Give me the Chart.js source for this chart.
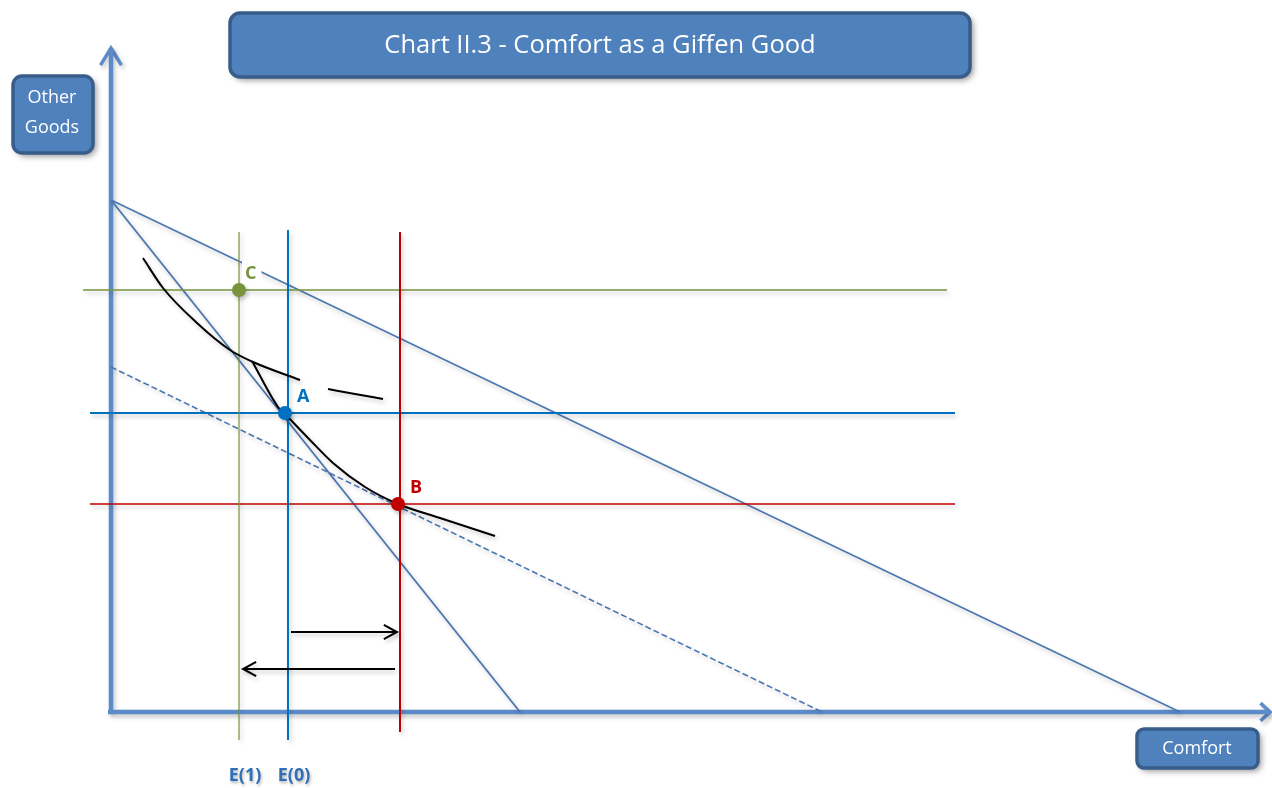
<!DOCTYPE html>
<html><head><meta charset="utf-8">
<script src="https://cdn.jsdelivr.net/npm/chart.js@4.4.1/dist/chart.umd.min.js"></script>
<style>html,body{margin:0;padding:0;background:#fff}#wrap{width:1272px;height:788px;position:relative}</style>
</head><body><div id="wrap"><canvas id="c"></canvas></div>
<script>
// ---- values (x: Comfort, y: Other Goods) ----
const titleText = 'Chart II.3 - Comfort as a Giffen Good';
const yAxisTitle = ['Other', 'Goods'];
const xAxisTitle = 'Comfort';
const axisXEnd = 115.9;
const axisYEnd = 66.4;
const budgetIntercept = 51.2;
const budgetOuterEnd = 106.9;
const budgetSteepEnd = 40.9;
const compensatedStart = 34.5;
const compensatedEnd = 71.1;
const pointLabels = ['A', 'B', 'C'];
const pointX = [17.4, 28.7, 12.8];
const pointY = [29.9, 20.8, 42.2];
const levelY = [29.9, 20.8, 42.2];
const levelXFrom = [-2.1, -2.1, -2.8];
const levelXTo = [84.4, 84.4, 83.6];
const guideX = [17.7, 28.9, 12.8];
const guideYFrom = [-2.8, -2.0, -2.8];
const guideYTo = [48.2, 48.0, 48.0];
const tickLabels = ['E(0)', '', 'E(1)'];
const curve1X = [3.2, 5.2, 8.6, 11.9, 14.2, 18.9, null, 21.7, 24.4, 27.2];
const curve1Y = [45.4, 42.4, 38.9, 36.2, 35.0, 33.2, null, 32.3, 31.8, 31.3];
const curve2X = [14.1, 16.7, 17.4, 19.9, 22.2, 25.4, 28.7, 32.9, 38.4];
const curve2Y = [35.1, 30.5, 29.8, 27.2, 24.9, 22.5, 20.8, 19.4, 17.6];
const shiftRight = [18.0, 28.6, 8.0];
const shiftLeft = [28.4, 13.2, 4.3];

// ---- styles ----
const colA = '#0070c0', colB = '#c00000', colC = '#77933c';
const pointColors = [colA, colB, colC];
const axisColor = '#5b8bc9';
const budgetColor = '#4a76b0';

function seg(x1, y1, x2, y2) { return [{x: x1, y: y1}, {x: x2, y: y2}]; }
function head(tx, ty, dx, dy, len, spread) {
  const a = Math.atan2(dy, dx);
  const p1 = {x: tx - len * Math.cos(a - spread), y: ty - len * Math.sin(a - spread)};
  const p2 = {x: tx - len * Math.cos(a + spread), y: ty - len * Math.sin(a + spread)};
  return [p1, {x: tx, y: ty}, p2];
}
function line(data, color, width, extra) {
  return Object.assign({data, showLine: true, borderColor: color, backgroundColor: color,
    borderWidth: width, pointRadius: 0, pointHoverRadius: 0, fill: false, tension: 0, clip: false, shadow: true}, extra || {});
}
function zip(xs, ys) { return xs.map((x, i) => x === null ? {x: NaN, y: NaN} : {x, y: ys[i]}); }

const datasets = [];
pointLabels.forEach((l, i) => {
  datasets.push({data: [{x: pointX[i], y: pointY[i]}], showLine: false, pointRadius: 7, pointHoverRadius: 7,
    backgroundColor: pointColors[i], borderColor: pointColors[i], borderWidth: 0, clip: false, shadow: true});
});
datasets.push(line(seg(shiftRight[0], shiftRight[2], shiftRight[1], shiftRight[2]), '#000', 2));
datasets.push(line(head(shiftRight[1], shiftRight[2], 1, 0, 1.5, 0.5), '#000', 2));
datasets.push(line(seg(shiftLeft[0], shiftLeft[2], shiftLeft[1], shiftLeft[2]), '#000', 2));
datasets.push(line(head(shiftLeft[1], shiftLeft[2], -1, 0, 1.5, 0.5), '#000', 2));
datasets.push(line(zip(curve1X, curve1Y), '#000', 2, {cubicInterpolationMode: 'monotone', spanGaps: false}));
datasets.push(line(zip(curve2X, curve2Y), '#000', 2, {cubicInterpolationMode: 'monotone'}));
guideX.forEach((gx, i) => datasets.push(line(seg(gx, guideYFrom[i], gx, guideYTo[i]), pointColors[i], i === 2 ? 1.2 : 2)));
levelY.forEach((ly, i) => datasets.push(line(seg(levelXFrom[i], ly, levelXTo[i], ly), pointColors[i], i === 0 ? 2 : 1.5)));
datasets.push(line(seg(0, compensatedStart, compensatedEnd, 0), budgetColor, 1.6, {borderDash: [6, 3]}));
datasets.push(line(seg(0, budgetIntercept, budgetSteepEnd, 0), budgetColor, 1.8));
datasets.push(line(seg(0, budgetIntercept, budgetOuterEnd, 0), budgetColor, 1.6));
datasets.push(line(seg(-0.3, 0, axisXEnd, 0), axisColor, 4.5));
datasets.push(line(head(axisXEnd, 0, 1, 0, 1.3, 0.75), axisColor, 3.5));
datasets.push(line(seg(0, 0, 0, axisYEnd), axisColor, 4.5));
datasets.push(line(head(0, axisYEnd, 0, 1, 2.0, 0.55), axisColor, 3.5));

function roundBox(ctx, x, y, w, h, r, fill, stroke, lw) {
  ctx.save();
  ctx.shadowColor = 'rgba(0,0,0,0.45)'; ctx.shadowBlur = 6; ctx.shadowOffsetX = 3; ctx.shadowOffsetY = 3;
  ctx.beginPath(); ctx.roundRect(x, y, w, h, r);
  ctx.fillStyle = fill; ctx.fill();
  ctx.shadowColor = 'transparent';
  ctx.lineWidth = lw; ctx.strokeStyle = stroke; ctx.stroke();
  ctx.restore();
}

const labelOffsetX = [12, 12, 6];
const decor = {
  id: 'decor',
  beforeDatasetDraw(chart, args) {
    const ds = chart.data.datasets[args.index];
    chart.ctx.save();
    if (ds.shadow) {
      chart.ctx.shadowColor = 'rgba(0,0,0,0.22)'; chart.ctx.shadowBlur = 4;
      chart.ctx.shadowOffsetX = 2; chart.ctx.shadowOffsetY = 3;
    }
  },
  afterDatasetDraw(chart) { chart.ctx.restore(); },
  afterDatasetsDraw(chart) {
    const ctx = chart.ctx, sx = chart.scales.x, sy = chart.scales.y;
    ctx.save();
    ctx.font = 'bold 18px "Open Sans", sans-serif';
    ctx.textBaseline = 'middle'; ctx.textAlign = 'left';
    pointLabels.forEach((l, i) => {
      const px = sx.getPixelForValue(pointX[i]) + labelOffsetX[i];
      const py = sy.getPixelForValue(pointY[i]) - 17;
      const w = ctx.measureText(l).width;
      ctx.fillStyle = '#fff'; ctx.fillRect(px - 3, py - 11, w + 8, 22);
      ctx.fillStyle = pointColors[i]; ctx.fillText(l, px, py + 1);
    });
    ctx.font = 'bold 18px "Open Sans", sans-serif';
    ctx.textAlign = 'center';
    ctx.shadowColor = 'rgba(0,0,0,0.3)'; ctx.shadowBlur = 3; ctx.shadowOffsetX = 1; ctx.shadowOffsetY = 2;
    ctx.fillStyle = '#2e6fb7';
    guideX.forEach((gx, i) => {
      if (!tickLabels[i]) return;
      ctx.fillText(tickLabels[i], sx.getPixelForValue(gx) + 6, sy.getPixelForValue(0) + 64);
    });
    ctx.restore();
    roundBox(ctx, 230, 13, 740, 64, 10, '#4f81bd', '#385d8a', 3.5);
    ctx.save();
    ctx.fillStyle = '#fff'; ctx.textAlign = 'center'; ctx.textBaseline = 'middle';
    ctx.font = '25.5px "Open Sans", sans-serif';
    ctx.fillText(titleText, 600, 46);
    roundBox(ctx, 13, 76, 80, 77, 9, '#4f81bd', '#385d8a', 3.5);
    ctx.fillStyle = '#fff';
    ctx.font = '18px "Open Sans", sans-serif';
    ctx.fillText(yAxisTitle[0], 52, 98);
    ctx.fillText(yAxisTitle[1], 52, 128);
    roundBox(ctx, 1137, 729, 121, 39, 7, '#4f81bd', '#385d8a', 3.5);
    ctx.fillStyle = '#fff';
    ctx.fillText(xAxisTitle, 1197, 749);
    ctx.restore();
  }
};

new Chart(document.getElementById('c'), {
  type: 'scatter',
  data: {datasets},
  options: {
    responsive: true, maintainAspectRatio: false, animation: false,
    layout: {padding: 0, autoPadding: false},
    plugins: {legend: {display: false}, tooltip: {enabled: false}, title: {display: false}},
    events: [],
    scales: {
      x: {type: 'linear', display: false, min: -11.1, max: 116.1},
      y: {type: 'linear', display: false, min: -7.6, max: 71.2}
    }
  },
  plugins: [decor]
});
</script></body></html>
